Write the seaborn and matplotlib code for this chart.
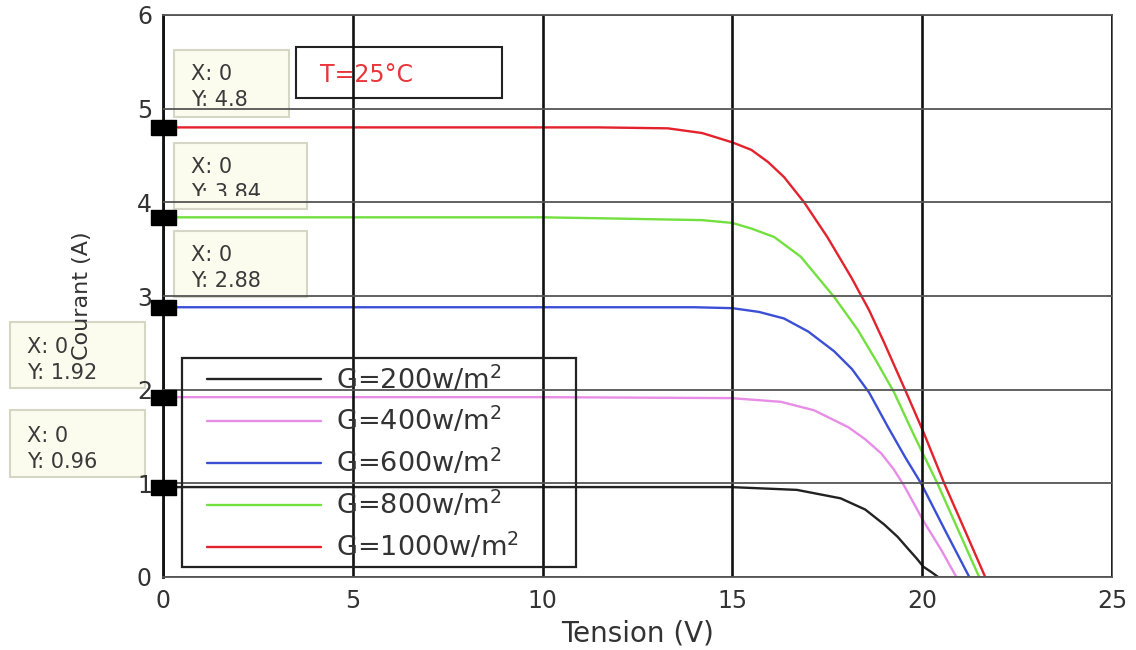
import numpy as np
import pandas as pd
import matplotlib
matplotlib.use("Agg")
import matplotlib.pyplot as plt
import seaborn as sns
from matplotlib.patches import Rectangle
from matplotlib.lines import Line2D

# I-V curves of the PV module at T = 25 C
v_200 = [0, 5, 10, 14.96, 16.7, 17.85, 18.5, 19.0, 19.35, 19.63, 19.85, 20.03, 20.25, 20.42]
i_200 = [0.96, 0.96, 0.96, 0.96, 0.93, 0.84, 0.72, 0.56, 0.43, 0.30, 0.20, 0.11, 0.05, 0]

v_400 = [0, 5, 10, 14.96, 16.28, 17.15, 18.05, 18.5, 18.92, 19.25, 19.53, 19.76, 20.03, 20.5, 20.9]
i_400 = [1.92, 1.92, 1.92, 1.91, 1.87, 1.78, 1.60, 1.47, 1.32, 1.15, 0.97, 0.80, 0.60, 0.29, 0]

v_600 = [0, 5, 10, 14, 15, 15.7, 16.36, 17.0, 17.68, 18.15, 18.6, 19.1, 19.55, 19.97, 20.6, 21.24]
i_600 = [2.88, 2.88, 2.88, 2.88, 2.87, 2.83, 2.76, 2.62, 2.41, 2.22, 1.97, 1.60, 1.28, 1.0, 0.5, 0]

v_800 = [0, 5, 10, 11.5, 14.2, 15, 15.5, 16.1, 16.8, 17.68, 18.3, 18.8, 19.26, 19.8, 20.4, 20.95, 21.5]
i_800 = [3.84, 3.84, 3.84, 3.83, 3.81, 3.78, 3.72, 3.63, 3.42, 2.99, 2.64, 2.30, 1.97, 1.50, 1.0, 0.5, 0]

v_1000 = [0, 5, 10, 11.5, 13.3, 14.2, 15, 15.5, 15.94, 16.36, 16.89, 17.5, 18.13, 18.6, 19.0, 19.58, 20.03, 20.58, 21.1, 21.66]
i_1000 = [4.8, 4.8, 4.8, 4.8, 4.79, 4.74, 4.64, 4.56, 4.43, 4.27, 4.0, 3.63, 3.2, 2.85, 2.5, 1.97, 1.55, 1.0, 0.52, 0]

labels = ['G=200w/m$^2$', 'G=400w/m$^2$', 'G=600w/m$^2$', 'G=800w/m$^2$', 'G=1000w/m$^2$']
colors = ['#222222', '#e88de6', '#3b4fd6', '#72e03e', '#e3222c']

# data tips at V = 0 (short-circuit currents)
tip_v = [0, 0, 0, 0, 0]
tip_i = [4.8, 3.84, 2.88, 1.92, 0.96]
tip_text = ['4.8', '3.84', '2.88', '1.92', '0.96']

curves = [(v_200, i_200), (v_400, i_400), (v_600, i_600), (v_800, i_800), (v_1000, i_1000)]
df = pd.concat([pd.DataFrame({'V': v, 'I': i, 'G': lab}) for (v, i), lab in zip(curves, labels)],
               ignore_index=True)

sns.set_theme(style='white')
plt.rcParams['font.family'] = ['DejaVu Sans']

W, H = 1136, 650
fig = plt.figure(figsize=(W / 100, H / 100), dpi=100)
ax = fig.add_axes([163 / W, 1 - 577 / H, (1112 - 163) / W, (577 - 15) / H])
ax.set_axisbelow(False)

sns.lineplot(data=df, x='V', y='I', hue='G', hue_order=labels, palette=colors,
             estimator=None, sort=False, lw=1.7, legend=False, ax=ax, zorder=2.2)

# black datatip markers
rect_marker = [(-1, -0.6), (1, -0.6), (1, 0.6), (-1, 0.6), (-1, -0.6)]
ax.plot(tip_v, tip_i, ls='none', marker=rect_marker, ms=18, color='black', clip_on=False, zorder=4)

ax.set_xlim(0, 25)
ax.set_ylim(0, 6)
ax.set_xticks([0, 5, 10, 15, 20, 25])
ax.set_yticks([0, 1, 2, 3, 4, 5, 6])
ax.grid(axis='x', color='#111111', lw=1.9)
ax.grid(axis='y', color='#555555', lw=1.3)
ax.tick_params(axis='both', direction='in', length=3, color='#333333', labelsize=17,
               labelcolor='#333333')
ax.tick_params(axis='x', pad=9)
ax.tick_params(axis='y', pad=8)
ax.spines['left'].set_color('#111111')
ax.spines['left'].set_linewidth(2)
for s in ['top', 'right', 'bottom']:
    ax.spines[s].set_color('#555555')
    ax.spines[s].set_linewidth(1.3)

ax.set_xlabel('Tension (V)', fontsize=20, color='#333333', labelpad=4)
ax.set_ylabel('Courant (A)', fontsize=16, color='#333333', labelpad=32)


def fig_rect(x0, y0, x1, y1, **kw):
    return Rectangle((x0 / W, 1 - y1 / H), (x1 - x0) / W, (y1 - y0) / H,
                     transform=fig.transFigure, **kw)


# datatip boxes (pixel positions from the picture)
boxes = [(174, 50, 289, 117), (174, 143, 307, 209), (174, 231, 307, 297),
         (10, 322, 145, 388), (10, 410, 145, 477)]
x_rows = [74, 167, 255, 347, 436]
cut = [106, 196, 287, None, None]
for k, (x0, y0, x1, y1) in enumerate(boxes):
    ax.add_artist(fig_rect(x0, y0, x1, y1, facecolor='#fbfbee', edgecolor='#d6d6c6',
                           lw=1.5, clip_on=False, zorder=1))
    tx = 191 if x0 > 100 else 27
    ax.text(tx / W, 1 - x_rows[k] / H, 'X: %d' % tip_v[k], transform=fig.transFigure,
            fontsize=15, color='#3a3a3a', va='center', ha='left', zorder=1.5)
    t2 = ax.text(tx / W, 1 - (x_rows[k] + 26) / H, 'Y: ' + tip_text[k], transform=fig.transFigure,
                 fontsize=15, color='#3a3a3a', va='center', ha='left', zorder=1.5)
    if cut[k] is not None:
        t2.set_clip_on(True)
        t2.set_clip_path(fig_rect(x0, y0, x1, cut[k]))

# temperature box
ax.add_artist(fig_rect(296, 47, 502, 98, facecolor='white', edgecolor='#222222', lw=1.5,
                       clip_on=False, zorder=1))
ax.text(320 / W, 1 - 75 / H, 'T=25°C', transform=fig.transFigure, fontsize=17,
        color='#e8363a', va='center', ha='left', zorder=1.5)

# legend frame and entries
ax.add_artist(fig_rect(182, 358, 576, 567, facecolor='none', edgecolor='#222222', lw=1.6,
                       clip_on=False, zorder=5))
handles = [Line2D([0], [0], color=c, lw=1.7) for c in colors]
ax.legend(handles, labels, loc='upper left', bbox_to_anchor=(207 / W, 1 - 364 / H),
          bbox_transform=fig.transFigure, frameon=False, fontsize=19.5, borderpad=0,
          borderaxespad=0, handlelength=4.2, handletextpad=0.55, labelspacing=0.42,
          labelcolor='#333333')

fig.savefig('out.png', dpi=100)
